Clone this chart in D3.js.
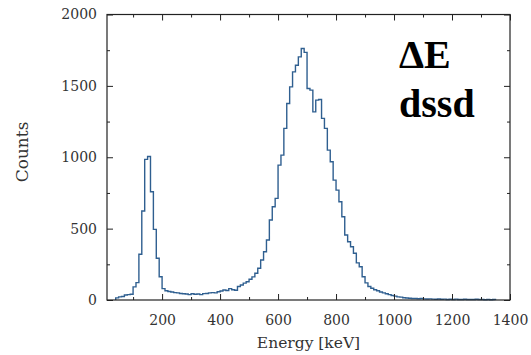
<!DOCTYPE html>
<meta charset="utf-8">
<style>
    body { margin: 0; background: #fff; }
    .axis text { font-family: "DejaVu Serif", serif; font-size: 14px; fill: #333; }
    .axis line { stroke: #222; stroke-width: 1; }
    .axis path { display: none; }
    .label { font-family: "DejaVu Serif", serif; fill: #333; }
    .tag { font-family: "Liberation Serif", "Times New Roman", serif; font-weight: bold; font-size: 40px; fill: #000; }
</style>
<svg width="531" height="355"></svg>
<script src="https://d3js.org/d3.v7.min.js"></script>
<script>
    // histogram binning (keV)
    var binStart = 40, binWidth = 10;
    // counts per 10 keV bin, starting at 40 keV
    var counts = [
        15, 22, 24, 35, 38, 40, 92, 122, 320, 623,
        985, 1005, 758, 495, 292, 163, 80, 65, 60, 56,
        52, 50, 46, 44, 42, 38, 44, 40, 42, 38,
        45, 46, 50, 52, 50, 58, 63, 70, 67, 80,
        72, 68, 95, 105, 118, 128, 145, 162, 187, 222,
        280, 338, 420, 560, 653, 712, 945, 1015, 1202, 1377,
        1493, 1598, 1645, 1703, 1762, 1735, 1482, 1470, 1318, 1400,
        1405, 1272, 1202, 1050, 968, 840, 770, 688, 583, 455,
        408, 373, 327, 260, 233, 163, 120, 95, 82, 72,
        65, 56, 50, 44, 38, 32, 27, 22, 20, 16,
        14, 12, 11, 10, 9, 10, 8, 7, 8, 6,
        5, 7, 5, 6, 4, 5, 4, 6, 4, 3,
        5, 3, 4, 3, 5, 3, 4, 2, 3, 2, 3
    ];
    var xMajor = [200, 400, 600, 800, 1000, 1200, 1400];
    var xMinor = [100, 300, 500, 700, 900, 1100, 1300];
    var yMajor = [0, 500, 1000, 1500, 2000];
    var yMinor = [250, 750, 1250, 1750];

    var svg = d3.select("svg");
    var pLeft = 107, pRight = 510, pTop = 14.5, pBottom = 300;

    var x = d3.scaleLinear().domain([10, 1400]).range([pLeft, pRight]);
    var y = d3.scaleLinear().domain([0, 2000]).range([pBottom, pTop]);

    // step outline of the histogram
    var pts = [[binStart, 0]];
    counts.forEach(function (c, i) {
        var e0 = binStart + i * binWidth;
        pts.push([e0, c]);
        pts.push([e0 + binWidth, c]);
    });
    pts.push([binStart + counts.length * binWidth, 0]);

    var line = d3.line()
        .x(function (d) { return x(d[0]); })
        .y(function (d) { return y(d[1]); });

    svg.append("path")
        .attr("d", line(pts))
        .attr("fill", "none")
        .attr("stroke", "#2f5f90")
        .attr("stroke-width", 1.4)
        .attr("stroke-linejoin", "miter");

    // inward ticks on all four sides
    function addAxis(axis, tx, ty) {
        svg.append("g").attr("class", "axis")
            .attr("transform", "translate(" + tx + "," + ty + ")")
            .call(axis);
    }
    addAxis(d3.axisBottom(x).tickValues(xMajor).tickSizeInner(-6).tickSizeOuter(0).tickPadding(15).tickFormat(d3.format("d")), 0, pBottom);
    addAxis(d3.axisBottom(x).tickValues(xMinor).tickSizeInner(-3).tickSizeOuter(0).tickFormat(""), 0, pBottom);
    addAxis(d3.axisTop(x).tickValues(xMajor).tickSizeInner(-6).tickSizeOuter(0).tickFormat(""), 0, pTop);
    addAxis(d3.axisTop(x).tickValues(xMinor).tickSizeInner(-3).tickSizeOuter(0).tickFormat(""), 0, pTop);
    addAxis(d3.axisLeft(y).tickValues(yMajor).tickSizeInner(-6).tickSizeOuter(0).tickPadding(10).tickFormat(d3.format("d")), pLeft, 0);
    addAxis(d3.axisLeft(y).tickValues(yMinor).tickSizeInner(-3).tickSizeOuter(0).tickFormat(""), pLeft, 0);
    addAxis(d3.axisRight(y).tickValues(yMajor).tickSizeInner(-6).tickSizeOuter(0).tickFormat(""), pRight, 0);
    addAxis(d3.axisRight(y).tickValues(yMinor).tickSizeInner(-3).tickSizeOuter(0).tickFormat(""), pRight, 0);

    // frame
    svg.append("rect")
        .attr("x", pLeft).attr("y", pTop)
        .attr("width", pRight - pLeft).attr("height", pBottom - pTop)
        .attr("fill", "none").attr("stroke", "#222").attr("stroke-width", 1.2);

    svg.append("text").attr("class", "label")
        .attr("x", (pLeft + pRight) / 2).attr("y", 348)
        .attr("text-anchor", "middle").style("font-size", "15.5px")
        .text("Energy [keV]");

    svg.append("text").attr("class", "label")
        .attr("transform", "translate(28,152) rotate(-90)")
        .attr("text-anchor", "middle").style("font-size", "17px")
        .text("Counts");

    svg.append("text").attr("class", "tag").attr("x", 399).attr("y", 68).text("ΔE");
    svg.append("text").attr("class", "tag").attr("x", 399).attr("y", 117).text("dssd");
</script>
